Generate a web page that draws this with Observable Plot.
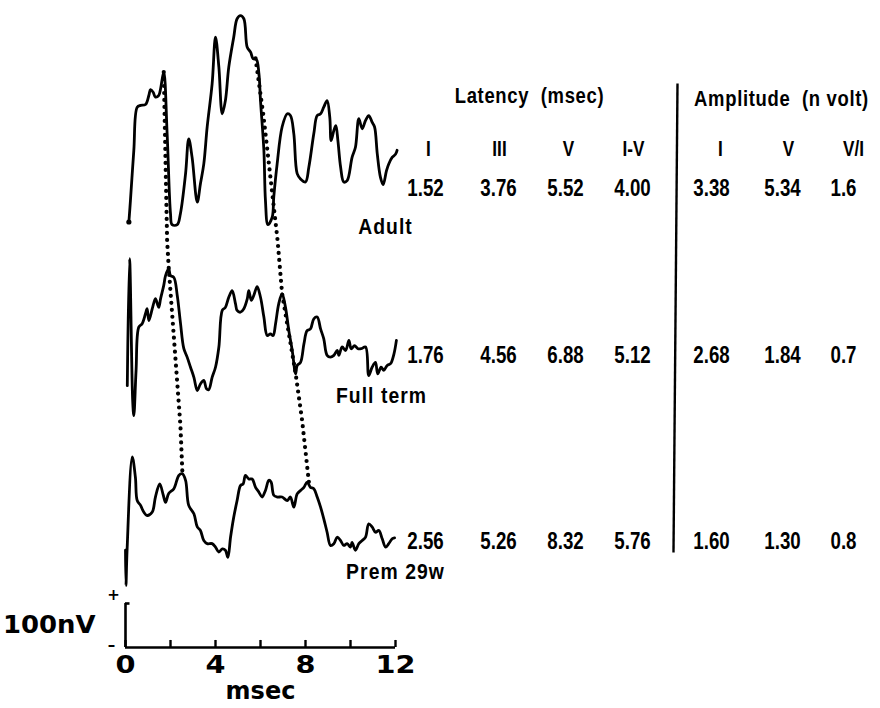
<!DOCTYPE html>
<html>
<head>
<meta charset="utf-8">
<script src="https://cdn.jsdelivr.net/npm/d3@7"></script>
<script src="https://cdn.jsdelivr.net/npm/@observablehq/plot@0.6"></script>
<style>
  html, body { margin: 0; padding: 0; background: #fff; }
  #chart svg { display: block; }
</style>
</head>
<body>
<div id="chart"></div>
<script>
// ================= DATA =================
const subjects = ["Adult", "Full term", "Prem 29w"];

// Adult trace: time (msec) and amplitude (nV, relative to trace start level)
const adultTime = [0.15,0.22,0.37,0.52,0.67,0.89,1.04,1.11,1.23,1.33,1.48,1.56,1.70,1.85,2.00,2.07,2.30,2.44,2.67,2.81,2.96,3.19,3.33,3.48,3.63,3.85,4.00,4.15,4.30,4.44,4.59,4.81,4.96,5.11,5.26,5.41,5.56,5.67,5.82,5.93,6.00,6.15,6.22,6.33,6.52,6.59,6.74,6.96,7.19,7.33,7.48,7.63,7.78,8.00,8.15,8.37,8.52,8.67,8.81,8.96,9.08,9.14,9.26,9.35,9.44,9.56,9.70,9.85,10.07,10.22,10.37,10.52,10.67,10.81,10.96,11.07,11.19,11.33,11.45,11.60,11.70,11.85,12.00,12.07];
const adultNV = [1,50,164,262,266,268,289,302,296,285,289,304,342,202,20,-5,-5,20,111,190,148,46,88,133,217,315,421,353,247,277,353,421,463,470,463,398,387,372,370,338,277,164,50,-5,12,58,133,217,247,243,202,111,99,92,126,202,243,247,262,277,239,186,209,220,186,126,92,95,148,171,236,213,232,243,228,217,156,103,86,118,133,148,155,164];

// Full-term trace
const fullTime = [0.08,0.18,0.32,0.37,0.47,0.59,0.74,0.89,0.96,1.04,1.19,1.33,1.41,1.48,1.56,1.70,1.78,1.92,2.00,2.15,2.30,2.44,2.59,2.74,2.89,3.04,3.19,3.33,3.48,3.60,3.70,3.85,4.00,4.15,4.30,4.44,4.59,4.74,4.89,4.96,5.11,5.26,5.41,5.48,5.59,5.70,5.85,6.00,6.15,6.30,6.44,6.56,6.67,6.81,6.96,7.11,7.26,7.41,7.56,7.63,7.78,7.93,8.07,8.22,8.37,8.52,8.67,8.81,8.96,9.11,9.26,9.41,9.48,9.63,9.78,9.93,10.03,10.18,10.33,10.47,10.67,10.81,10.96,11.11,11.21,11.36,11.48,11.63,11.78,11.93,12.04];
const fullNV = [-5,284,-40,-73,30,128,136,159,170,143,170,193,182,173,193,223,245,261,245,241,200,139,80,60,37,14,-16,-1,7,-12,-14,14,37,83,166,173,196,211,181,166,162,170,192,211,189,200,220,196,151,109,113,109,136,181,204,173,120,75,22,41,48,90,120,124,147,151,124,102,64,60,64,75,64,83,75,98,79,86,79,79,83,18,37,48,22,37,30,41,45,67,98];

// Premature (29 weeks) trace
const premTime = [0.00,0.02,0.07,0.30,0.44,0.52,0.67,0.81,0.96,1.19,1.33,1.52,1.68,1.78,1.92,2.15,2.37,2.52,2.67,2.81,3.04,3.19,3.33,3.48,3.63,3.85,4.00,4.15,4.30,4.44,4.55,4.67,4.81,4.96,5.11,5.23,5.33,5.48,5.63,5.78,5.93,6.07,6.22,6.37,6.47,6.59,6.74,6.96,7.19,7.33,7.48,7.63,7.78,7.93,8.07,8.22,8.37,8.52,8.67,8.81,8.96,9.11,9.26,9.41,9.56,9.70,9.85,10.00,10.07,10.22,10.37,10.52,10.67,10.81,10.96,11.11,11.26,11.41,11.56,11.70,11.85,11.96];
const premNV = [80,0,80,292,246,193,182,167,159,167,201,231,205,189,209,220,250,254,239,182,163,133,125,102,95,95,87,76,83,80,64,110,155,193,227,231,250,242,242,223,212,201,216,239,235,205,201,201,193,201,178,208,216,223,235,223,220,201,178,152,121,91,95,110,102,91,95,87,98,80,95,102,110,140,133,121,125,106,87,95,106,108];

// Dotted lines linking wave I and wave V peaks (time msec, nV above the time axis)
const waveITime = [1.70, 1.85, 1.92, 2.44, 2.53];
const waveINV   = [1308, 925, 864, 505, 396];
const waveVTime = [5.78, 6.13, 6.76, 6.96, 7.56, 7.85, 8.15];
const waveVNV   = [1339, 1209, 925, 804, 623, 516, 376];

// Table
const latencyHeads = ["I", "III", "V", "I-V"];
const amplitudeHeads = ["I", "V", "V/I"];
const latencyI   = [1.52, 1.76, 2.56];
const latencyIII = [3.76, 4.56, 5.26];
const latencyV   = [5.52, 6.88, 8.32];
const latencyIV  = [4.00, 5.12, 5.76];
const amplitudeI = [3.38, 2.68, 1.60];
const amplitudeV = [5.34, 1.84, 1.30];
const ratioVI    = [1.6, 0.7, 0.8];

// Axis / scale bar
const axisTicks = [0, 2, 4, 6, 8, 10, 12];
const axisLabels = [0, 4, 8, 12];
const scaleBarNV = 100;

// ================= LAYOUT =================
const W = 880, H = 708;
const X0 = 125, PX_PER_MS = 22.5, Y_AXIS = 647, PX_PER_NV = 0.44;
const msAt = px => (px - X0) / PX_PER_MS;
const nvAt = py => (Y_AXIS - py) / PX_PER_NV;

const traceBase = [966, 600, 141];                 // vertical offsets of traces (nV)
const valueColPx = [425, 498, 565, 632, 711, 782, 843];
const headColPx  = [428, 499, 568, 633, 720, 788, 853];
const rowBasePx  = [195, 362, 548];
const headBasePx = 155;
const labelPx = [[385, 233], [381, 402], [395, 578]];
const TICK_NV = 16;

const FONT_SANS = "'Liberation Sans', Arial, sans-serif";
const FONT_BOLD = "'DejaVu Sans', 'Liberation Sans', sans-serif";

// ================= BUILD =================
const traceSeries = [[adultTime, adultNV], [fullTime, fullNV], [premTime, premNV]];
const traceRows = traceSeries.flatMap(([ts, vs], k) =>
  ts.map((t, i) => ({subject: subjects[k], t, v: vs[i] + traceBase[k]})));

const waveI = waveITime.map((t, i) => ({t, v: waveINV[i]}));
const waveV = waveVTime.map((t, i) => ({t, v: waveVNV[i]}));

const f2 = d3.format(".2f"), f1 = d3.format(".1f");
const tableCols = [
  [latencyI, f2], [latencyIII, f2], [latencyV, f2], [latencyIV, f2],
  [amplitudeI, f2], [amplitudeV, f2], [ratioVI, f1]
];
const cells = [];
subjects.forEach((s, r) => tableCols.forEach(([vals, fmt], c) =>
  cells.push({text: fmt(vals[r]), px: valueColPx[c], py: rowBasePx[r]})));
const heads = [...latencyHeads, ...amplitudeHeads].map((h, c) => ({text: h, px: headColPx[c], py: headBasePx}));
const titles = [
  {text: "Latency\u00a0\u00a0(msec)", px: 529, py: 102},
  {text: "Amplitude\u00a0\u00a0(n\u00a0volt)", px: 781, py: 105}
];
const labels = subjects.map((s, k) => ({text: s, px: labelPx[k][0], py: labelPx[k][1]}));

const pos = {x: d => msAt(d.px), y: d => nvAt(d.py), text: "text", lineAnchor: "bottom"};

const chart = Plot.plot({
  width: W, height: H,
  marginLeft: X0, marginRight: W - (X0 + 12 * PX_PER_MS),
  marginTop: 0, marginBottom: H - Y_AXIS,
  x: {domain: [0, 12], axis: null},
  y: {domain: [0, Y_AXIS / PX_PER_NV], axis: null},
  style: {background: "white", color: "black", overflow: "visible"},
  marks: [
    // time axis and ticks
    Plot.ruleY([0], {x1: 0, x2: 12, strokeWidth: 2.6}),
    Plot.ruleX(axisTicks, {x: d => d, y1: 0, y2: TICK_NV, strokeWidth: 2.4}),
    Plot.text(axisLabels, {x: d => d, y: 0, text: d => String(d), dy: 25, lineAnchor: "bottom",
      fontSize: 25, fontWeight: 600, fontFamily: FONT_BOLD, ariaDescription: "wide"}),
    Plot.text(["msec"], {x: () => 6, y: 0, text: d => d, dy: 51, lineAnchor: "bottom",
      fontSize: 24, fontWeight: "bold", fontFamily: FONT_BOLD}),
    // 100 nV scale bar
    Plot.ruleX([0], {x: d => d, y1: 0, y2: scaleBarNV, strokeWidth: 2.6}),
    Plot.ruleY([scaleBarNV], {y: d => d, x1: 0, x2: 0.2, strokeWidth: 2.6}),
    Plot.text([scaleBarNV], {x: () => 0, y: d => d / 2, text: d => d + "nV", dx: -30, textAnchor: "end",
      lineAnchor: "middle", fontSize: 24, fontWeight: 600, fontFamily: FONT_BOLD, ariaDescription: "wider"}),
    Plot.text(["+"], {x: () => 0, y: () => scaleBarNV, text: d => d, dx: -12, dy: -8, lineAnchor: "middle",
      fontSize: 15, fontWeight: "bold", fontFamily: FONT_BOLD}),
    Plot.text(["\u2013"], {x: () => 0, y: () => 0, text: d => d, dx: -14, dy: -2, lineAnchor: "middle",
      fontSize: 15, fontWeight: "bold", fontFamily: FONT_BOLD}),
    // dotted peak connectors
    Plot.line(waveI, {x: "t", y: "v", strokeWidth: 4.2, strokeDasharray: "0 7", strokeLinecap: "round"}),
    Plot.line(waveV, {x: "t", y: "v", strokeWidth: 4.2, strokeDasharray: "0 7", strokeLinecap: "round"}),
    // traces
    Plot.line(traceRows, {x: "t", y: "v", z: "subject", stroke: "black", strokeWidth: 2.8,
      strokeLinejoin: "round", curve: "catmull-rom"}),
    Plot.dot(traceRows.slice(0, 1), {x: "t", y: "v", r: 2.6, fill: "black"}),
    // trace labels
    Plot.text(labels, {...pos, fontSize: 22, fontWeight: "bold", fontFamily: FONT_SANS, ariaDescription: "trace-labels"}),
    // table
    Plot.text(titles, {...pos, fontSize: 22, fontWeight: "bold", fontFamily: FONT_SANS, ariaDescription: "titles"}),
    Plot.text(heads, {...pos, fontSize: 22, fontFamily: FONT_SANS, fontWeight: "bold", ariaDescription: "narrow"}),
    Plot.text(cells, {...pos, fontSize: 24, fontWeight: "bold", fontFamily: FONT_SANS, ariaDescription: "narrow"}),
    Plot.link([0], {x1: () => msAt(677), y1: () => nvAt(83), x2: () => msAt(673), y2: () => nvAt(552),
      strokeWidth: 2.4})
  ]
});

// typographic adjustments (letter spacing and condensed/extended widths)
const sel = d => d3.select(chart).selectAll(`g[aria-description='${d}'] text`);
const squeeze = (s, k) => s.attr("transform", function() {
  return (this.getAttribute("transform") || "") + ` scale(${k},1)`;
});
squeeze(sel("trace-labels").style("letter-spacing", "1.2px"), 0.88);
squeeze(sel("titles").style("letter-spacing", "0.8px"), 0.84);
squeeze(sel("narrow"), 0.78);
squeeze(sel("wide"), 1.15);
squeeze(sel("wider"), 1.08);
document.getElementById("chart").appendChild(chart);
</script>
</body>
</html>
